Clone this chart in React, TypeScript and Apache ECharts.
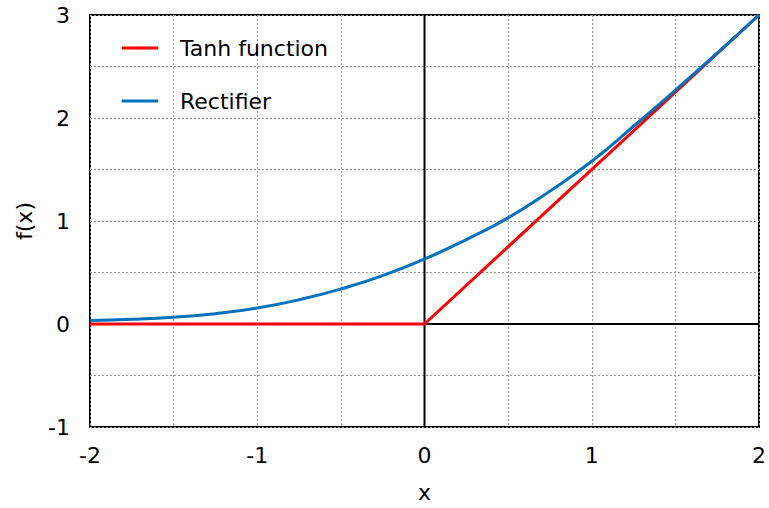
import React, { useEffect, useRef } from "react";
import * as echarts from "echarts";

const xTicks = [-2, -1.5, -1, -0.5, 0, 0.5, 1, 1.5, 2];
const reluX = [-2, 0, 2];
const reluY = [0, 0, 3];
const softX = [-2, -1.75, -1.5, -1.25, -1, -0.75, -0.5, -0.25, 0, 0.25, 0.5, 0.75, 1, 1.25, 1.5, 1.75, 2];
const softY = [0.035, 0.045, 0.065, 0.1, 0.155, 0.235, 0.34, 0.47, 0.63, 0.82, 1.03, 1.29, 1.58, 1.92, 2.27, 2.63, 3.0];
const seriesNames = ["Tanh function", "Rectifier"];

const FONT = "DejaVu Sans";

export default function App() {
  const ref = useRef<HTMLDivElement>(null);
  useEffect(() => {
    if (!ref.current) return;
    const chart = echarts.init(ref.current, undefined, { renderer: "svg" });
    const fmt = (v: number) => (Math.abs(v - Math.round(v)) < 1e-9 ? String(Math.round(v)) : "");
    chart.setOption({
      animation: false,
      backgroundColor: "#fff",
      textStyle: { fontFamily: FONT },
      grid: {
        left: 90,
        top: 15,
        right: 7,
        bottom: 75,
        show: true,
        borderColor: "#000",
        borderWidth: 2,
        backgroundColor: "transparent",
      },
      legend: {
        data: seriesNames,
        orient: "vertical",
        left: 117,
        top: 30,
        icon: "rect",
        itemWidth: 36,
        itemHeight: 3,
        itemGap: 27,
        textStyle: {
          fontFamily: FONT,
          fontSize: 22,
          color: "#000",
          lineHeight: 26,
          padding: [0, 0, 0, 17],
        },
      },
      xAxis: {
        type: "value",
        min: xTicks[0],
        max: xTicks[xTicks.length - 1],
        interval: 0.5,
        name: "x",
        nameLocation: "middle",
        nameGap: 54,
        nameTextStyle: { fontFamily: FONT, fontSize: 22, color: "#000" },
        axisLine: { show: false },
        axisTick: { show: false },
        axisLabel: { formatter: fmt, fontFamily: FONT, fontSize: 22, color: "#000", margin: 17, showMinLabel: true, showMaxLabel: true },
        splitLine: { show: true, lineStyle: { type: [2, 2], color: "#999", width: 1 } },
      },
      yAxis: {
        type: "value",
        min: -1,
        max: 3,
        interval: 0.5,
        name: "f(x)",
        nameLocation: "middle",
        nameGap: 55,
        nameTextStyle: { fontFamily: FONT, fontSize: 22, color: "#000" },
        axisLine: { show: false },
        axisTick: { show: false },
        axisLabel: { formatter: fmt, fontFamily: FONT, fontSize: 22, color: "#000", margin: 20, showMinLabel: true, showMaxLabel: true },
        splitLine: { show: true, lineStyle: { type: [2, 2], color: "#999", width: 1 } },
      },
      series: [
        {
          name: "zeroX",
          type: "line",
          silent: true,
          z: 1,
          symbol: "none",
          data: [[-2, 0], [2, 0]],
          lineStyle: { color: "#000", width: 2 },
        },
        {
          name: "zeroY",
          type: "line",
          silent: true,
          z: 1,
          symbol: "none",
          data: [[0, -1], [0, 3]],
          lineStyle: { color: "#000", width: 2 },
        },
        {
          name: seriesNames[0],
          type: "line",
          z: 3,
          symbol: "none",
          color: "#ff0000",
          data: reluX.map((x, i) => [x, reluY[i]]),
          lineStyle: { color: "#ff0000", width: 3 },
        },
        {
          name: seriesNames[1],
          type: "line",
          z: 4,
          symbol: "none",
          smooth: true,
          color: "#0072bd",
          data: softX.map((x, i) => [x, softY[i]]),
          lineStyle: { color: "#0072bd", width: 3 },
        },
      ],
    });
    return () => chart.dispose();
  }, []);
  return <div ref={ref} style={{ width: 769, height: 508, position: "absolute", left: 0, top: 0 }} />;
}
